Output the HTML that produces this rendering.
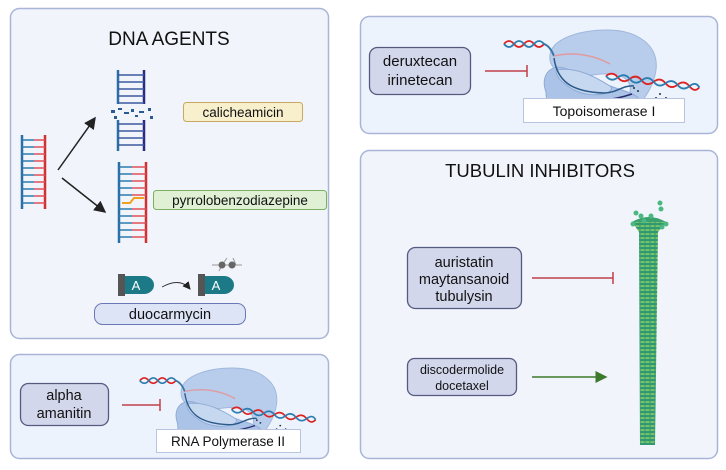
<!DOCTYPE html>
<html><head><meta charset="utf-8"><style>
body{margin:0;background:#fff}
svg{display:block;font-family:"Liberation Sans",sans-serif}
</style></head><body>
<svg width="726" height="470" viewBox="0 0 726 470" xmlns="http://www.w3.org/2000/svg">
<defs>
<marker id="ab" markerWidth="8" markerHeight="8" refX="7" refY="4" orient="auto"><path d="M0,0 L8,4 L0,8 z" fill="#222"/></marker>
<marker id="ag" markerWidth="8" markerHeight="8" refX="7" refY="4" orient="auto"><path d="M0,0 L8,4 L0,8 z" fill="#3b7a2a"/></marker>
<g id="poly">
<path d="M8,30 C5,8 40,0 65,0 C95,0 117,15 114,40 C112,55 104,66 98,74 L86,68 C92,55 86,46 70,44 C55,42 40,50 22,44 C14,42 9,36 8,30 Z" fill="#b8cdeb" stroke="#9fb7de"/>
<path d="M4,62 C-2,46 8,34 22,38 C40,44 60,54 80,60 C95,65 102,70 98,76 L86,80 L84,88 L18,88 C8,82 4,72 4,62 z" fill="#abc3e7" stroke="#8eaad6"/>
<path d="M14,40 C35,36 55,48 68,56 C76,62 52,70 32,60 C22,54 14,48 14,40z" fill="#c6d8f0" stroke="#8eaad6"/>
<path d="M-38,14 q5,-6 10,0 t10,0 t10,0 t10,0 q6,2 10,12" fill="none" stroke="#d22" stroke-width="1.8"/>
<path d="M-38,14 q5,6 10,0 t10,0 t10,0 t10,0 q6,2 10,12" fill="none" stroke="#2a7db0" stroke-width="1.8"/>
<path d="M12,26 C30,22 50,24 68,34" stroke="#e09aa0" stroke-width="1.5" fill="none"/>
<path d="M12,28 C15,50 28,62 62,63 C75,63 80,55 92,56" stroke="#2a5a8a" stroke-width="1.5" fill="none"/>
<path d="M30,70 C50,73 72,70 90,64" stroke="#2a2a70" stroke-width="1.5" fill="none"/>
<path d="M64,46 q6,-6 12,0 t12,0 t12,0 t12,0 t12,0 t12,0 t12,0 t10,0" fill="none" stroke="#d22" stroke-width="1.8" transform="rotate(7 64 46)"/>
<path d="M64,46 q6,6 12,0 t12,0 t12,0 t12,0 t12,0 t12,0 t12,0 t10,0" fill="none" stroke="#2a7db0" stroke-width="1.8" transform="rotate(7 64 46)"/>
<circle cx="92" cy="58" r="1" fill="#234"/><circle cx="96" cy="61" r="1" fill="#234"/><circle cx="118" cy="64" r="1" fill="#234"/><circle cx="124" cy="68" r="1" fill="#234"/><circle cx="114" cy="68" r="1" fill="#234"/>
</g>
</defs>

<rect x="10.5" y="8.5" width="318" height="330" rx="9" fill="#f1f4fb" stroke="#a8b5d8" stroke-width="1.5"/>
<rect x="10.5" y="354.5" width="318" height="104" rx="9" fill="#edf3fc" stroke="#a8b5d8" stroke-width="1.5"/>
<rect x="360.5" y="16.5" width="357" height="117" rx="9" fill="#edf3fc" stroke="#a8b5d8" stroke-width="1.5"/>
<rect x="360.5" y="150.5" width="357" height="308" rx="9" fill="#f1f4fb" stroke="#a8b5d8" stroke-width="1.5"/>

<text x="169" y="45" font-size="19" text-anchor="middle" fill="#111">DNA AGENTS</text>
<g stroke-width="2.5">
<line x1="22" y1="135" x2="22" y2="209" stroke="#2a6fa8"/>
<line x1="45" y1="135" x2="45" y2="209" stroke="#d03030"/>
</g>
<g stroke-width="1.5">
<path d="M22,140h12M22,147h12M22,154h12M22,161h12M22,168h12M22,175h12M22,182h12M22,189h12M22,196h12M22,203h12" stroke="#2a7db0"/>
<path d="M34,140h11M34,147h11M34,154h11M34,161h11M34,168h11M34,175h11M34,182h11M34,189h11M34,196h11M34,203h11" stroke="#e0505a"/>
</g>
<line x1="58" y1="170" x2="95" y2="118" stroke="#222" stroke-width="1.5" marker-end="url(#ab)"/>
<line x1="62" y1="178" x2="105" y2="212" stroke="#222" stroke-width="1.5" marker-end="url(#ab)"/>
<g stroke-width="2.5">
<line x1="118" y1="70" x2="118" y2="104" stroke="#2a6fa8"/>
<line x1="144" y1="70" x2="144" y2="104" stroke="#2a2a80"/>
<line x1="118" y1="120" x2="118" y2="151" stroke="#2a6fa8"/>
<line x1="144" y1="120" x2="144" y2="151" stroke="#2a2a80"/>
</g>
<path d="M118,75h26M118,82h26M118,89h26M118,96h26M118,103h26M118,124h26M118,131h26M118,138h26M118,145h26" stroke="#3a5aa0" stroke-width="1.5"/>
<g fill="#2a5a90"><rect x="111" y="110" width="4" height="3"/><rect x="118" y="108" width="4" height="2"/><rect x="124" y="112" width="5" height="2"/><rect x="131" y="109" width="3" height="3"/><rect x="139" y="111" width="5" height="2"/><rect x="148" y="108" width="3" height="3"/><rect x="114" y="116" width="3" height="3"/><rect x="150" y="116" width="3" height="3"/><rect x="135" y="115" width="3" height="2"/></g>
<g stroke-width="2.5">
<line x1="119" y1="162" x2="119" y2="243" stroke="#2a6fa8"/>
<line x1="146" y1="162" x2="146" y2="243" stroke="#d03030"/>
</g>
<path d="M119,167h13M119,174h13M119,181h13M119,188h13M119,195h13M119,209h13M119,216h13M119,223h13M119,230h13M119,237h13" stroke="#2a7db0" stroke-width="1.5"/>
<path d="M132,167h14M132,174h14M132,181h14M132,188h14M132,195h14M132,209h14M132,216h14M132,223h14M132,230h14M132,237h14" stroke="#e0505a" stroke-width="1.5"/>
<path d="M122,203h8l4,-5h10" stroke="#f0a020" stroke-width="2" fill="none"/>
<rect x="183.5" y="102.5" width="119" height="19" rx="3" fill="#f8f0cc" stroke="#c8a860"/>
<text x="243" y="117" font-size="13.5" text-anchor="middle" fill="#111">calicheamicin</text>
<rect x="153.5" y="190.5" width="173" height="19" rx="3" fill="#dff0d4" stroke="#7ab060"/>
<text x="240" y="205" font-size="13.5" text-anchor="middle" fill="#111">pyrrolobenzodiazepine</text>
<rect x="118" y="274" width="7" height="22" fill="#555"/>
<path d="M125,276h19a10,9 0 0 1 0,18h-19z" fill="#1b7a86"/>
<text x="136" y="290" font-size="13" text-anchor="middle" fill="#fff">A</text>
<path d="M162,287 q18,-10 28,2" stroke="#333" fill="none" stroke-width="1" marker-end="url(#ab)"/>
<rect x="198" y="274" width="7" height="22" fill="#555"/>
<path d="M205,276h19a10,9 0 0 1 0,18h-19z" fill="#1b7a86"/>
<text x="216" y="290" font-size="13" text-anchor="middle" fill="#fff">A</text>
<path d="M212,265h30M227,258l-5,7M233,258l3,7M222,265l-3,6" stroke="#999" stroke-width="1"/>
<circle cx="222" cy="265" r="3.5" fill="#666"/><circle cx="232" cy="265" r="3.5" fill="#666"/>
<rect x="94.5" y="303.5" width="151" height="21" rx="8" fill="#dde4f6" stroke="#6a78b8"/>
<text x="170" y="319" font-size="14.5" text-anchor="middle" fill="#111">duocarmycin</text>

<rect x="20.5" y="383.5" width="88" height="42" rx="8" fill="#d3d7ec" stroke="#555a80" stroke-width="1.3"/>
<text x="64" y="400" font-size="14.5" text-anchor="middle" fill="#111">alpha</text>
<text x="64" y="418" font-size="14.5" text-anchor="middle" fill="#111">amanitin</text>
<line x1="122" y1="405" x2="160" y2="405" stroke="#c0404a" stroke-width="1.5"/>
<line x1="160" y1="399" x2="160" y2="411" stroke="#c0404a" stroke-width="1.5"/>
<use href="#poly" transform="translate(174,368) scale(0.9)"/>
<rect x="156.5" y="429.5" width="144" height="23" fill="#fff" stroke="#b8c4e0"/>
<text x="228" y="446" font-size="13.5" text-anchor="middle" fill="#111">RNA Polymerase II</text>

<rect x="369.5" y="47.5" width="101" height="47" rx="8" fill="#d3d7ec" stroke="#555a80" stroke-width="1.3"/>
<text x="420" y="66" font-size="15" text-anchor="middle" fill="#111">deruxtecan</text>
<text x="420" y="85" font-size="15" text-anchor="middle" fill="#111">irinetecan</text>
<line x1="485" y1="71" x2="527" y2="71" stroke="#c0404a" stroke-width="1.5"/>
<line x1="527" y1="65" x2="527" y2="77" stroke="#c0404a" stroke-width="1.5"/>
<use href="#poly" transform="translate(542,30)"/>
<rect x="523.5" y="98.5" width="161" height="24" fill="#fff" stroke="#b8c4e0"/>
<text x="604" y="116" font-size="14" text-anchor="middle" fill="#111">Topoisomerase I</text>

<text x="540" y="177" font-size="18.5" text-anchor="middle" fill="#111">TUBULIN INHIBITORS</text>
<rect x="407.5" y="247.5" width="114" height="61" rx="8" fill="#d3d7ec" stroke="#555a80" stroke-width="1.3"/>
<text x="464" y="267" font-size="14.5" text-anchor="middle" fill="#111">auristatin</text>
<text x="464" y="284" font-size="14.5" text-anchor="middle" fill="#111">maytansanoid</text>
<text x="464" y="301" font-size="14.5" text-anchor="middle" fill="#111">tubulysin</text>
<rect x="407.5" y="358.5" width="109" height="37" rx="7" fill="#d3d7ec" stroke="#555a80" stroke-width="1.3"/>
<text x="462" y="374" font-size="12.5" text-anchor="middle" fill="#111">discodermolide</text>
<text x="462" y="390" font-size="12.5" text-anchor="middle" fill="#111">docetaxel</text>
<line x1="532" y1="278" x2="613" y2="278" stroke="#c0404a" stroke-width="1.5"/>
<line x1="613" y1="272" x2="613" y2="284" stroke="#c0404a" stroke-width="1.5"/>
<line x1="532" y1="377" x2="606" y2="377" stroke="#3b7a2a" stroke-width="1.5" marker-end="url(#ag)"/>
<defs><pattern id="mt" width="5" height="4" patternUnits="userSpaceOnUse"><rect width="5" height="4" fill="#2f9a72"/><rect x="0.5" y="1.4" width="4" height="1.3" fill="#9fd466"/></pattern></defs>
<path d="M635,226 L631,222 L666,222 L658,232 L655,445 L640,445 L639,232 z" fill="url(#mt)"/>
<path d="M632,222 q17,-10 34,0 z" fill="#3aa070"/>
<g fill="#4ab880"><circle cx="633" cy="224" r="2.5"/><circle cx="641" cy="216" r="2.5"/><circle cx="636" cy="213" r="2.5"/><circle cx="651" cy="216" r="2.5"/><circle cx="660" cy="203" r="2.5"/><circle cx="661" cy="209" r="2.5"/><circle cx="666" cy="224" r="2.5"/><circle cx="662" cy="227" r="2.5"/><circle cx="644" cy="221" r="2.5"/></g>
</svg>
</body></html>
